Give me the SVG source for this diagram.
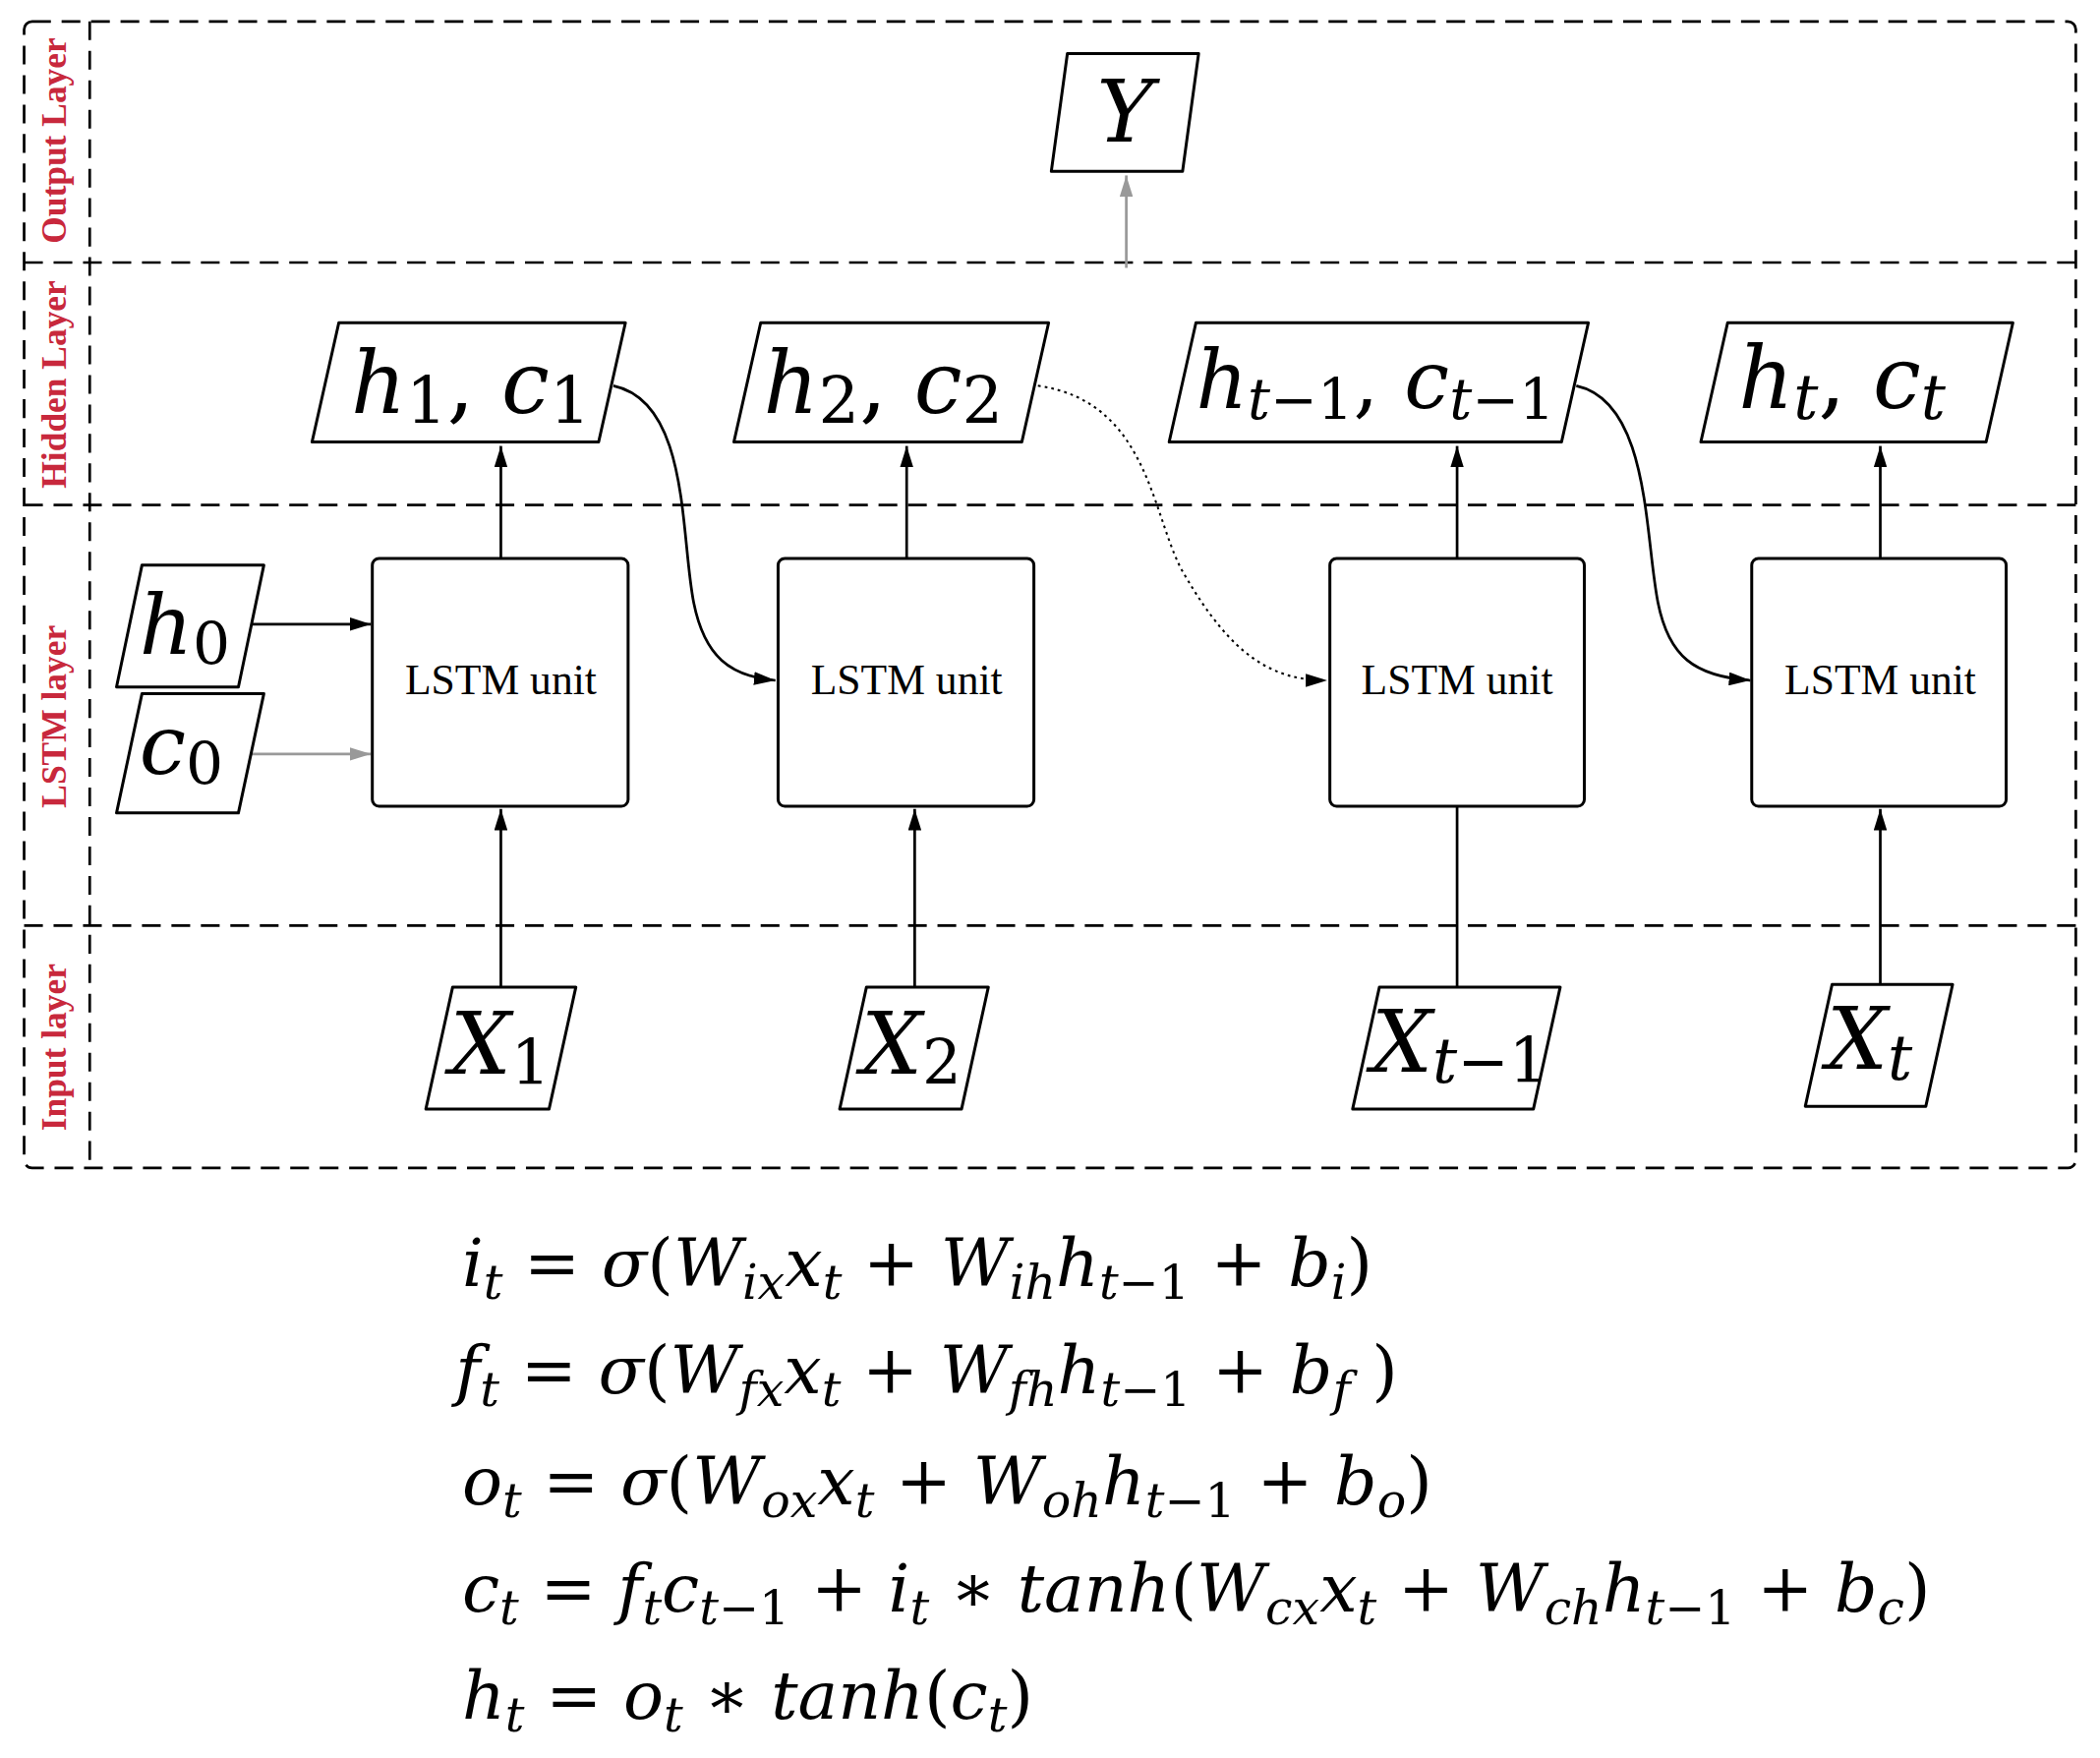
<svg xmlns="http://www.w3.org/2000/svg" width="2136" height="1788" viewBox="0 0 2136 1788">
<style>
.dash{fill:none;stroke:#000;stroke-width:2;stroke-dasharray:14 8}
.node{fill:#fff;stroke:#000;stroke-width:2.2;stroke-linejoin:round}
.m{font-family:"DejaVu Serif","Liberation Serif",serif;font-style:italic;fill:#000}
.u{font-style:normal}
.lbl{font-family:"Liberation Serif",serif;font-weight:bold;fill:#c8283c;font-size:26px}
.box{font-family:"Liberation Serif",serif;font-size:32px;fill:#000}
.e{fill:none;stroke:#000;stroke-width:2}
</style>
<defs>
<marker id="a" markerWidth="16" markerHeight="10" refX="16" refY="5" orient="auto" markerUnits="userSpaceOnUse" viewBox="0 0 16 10"><path d="M0,0L16,5L0,10Z" fill="#000"/></marker>
<marker id="g" markerWidth="16" markerHeight="10" refX="16" refY="5" orient="auto" markerUnits="userSpaceOnUse" viewBox="0 0 16 10"><path d="M0,0L16,5L0,10Z" fill="#999"/></marker>
</defs>
<rect width="2136" height="1788" fill="#fff"/>
<g transform="scale(1.3622)">
<g id="frame">
<rect x="18" y="16" width="1532" height="856" rx="6" class="dash"/>
<line x1="67" y1="16" x2="67" y2="872" class="dash"/>
<line x1="18" y1="196" x2="1550" y2="196" class="dash"/>
<line x1="18" y1="377" x2="1550" y2="377" class="dash"/>
<line x1="18" y1="691" x2="1550" y2="691" class="dash"/>
<text class="lbl" transform="translate(49,105) rotate(-90)" text-anchor="middle">Output Layer</text>
<text class="lbl" transform="translate(49,287) rotate(-90)" text-anchor="middle">Hidden Layer</text>
<text class="lbl" transform="translate(49,535) rotate(-90)" text-anchor="middle">LSTM layer</text>
<text class="lbl" transform="translate(49,782) rotate(-90)" text-anchor="middle">Input layer</text>
</g>
<g id="connectors">
<line x1="841" y1="200" x2="841" y2="131" stroke="#999" stroke-width="2" marker-end="url(#g)"/>
<line x1="188" y1="466" x2="277" y2="466" class="e" marker-end="url(#a)"/>
<line x1="186" y1="563" x2="277" y2="563" stroke="#999" stroke-width="2" marker-end="url(#g)"/>
<line x1="374" y1="417" x2="374" y2="333" class="e" marker-end="url(#a)"/>
<line x1="677" y1="417" x2="677" y2="333" class="e" marker-end="url(#a)"/>
<line x1="1088" y1="417" x2="1088" y2="333" class="e" marker-end="url(#a)"/>
<line x1="1404" y1="417" x2="1404" y2="333" class="e" marker-end="url(#a)"/>
<line x1="374" y1="737" x2="374" y2="604" class="e" marker-end="url(#a)"/>
<line x1="683" y1="737" x2="683" y2="604" class="e" marker-end="url(#a)"/>
<line x1="1088" y1="737" x2="1088" y2="602" class="e"/>
<line x1="1404" y1="735" x2="1404" y2="604" class="e" marker-end="url(#a)"/>
<path d="M458,288 C515,300 508,400 518,450 C526,490 545,505 579,508" class="e" marker-end="url(#a)"/>
<path d="M775,288 C860,300 860,390 885,430 C920,490 950,508 991,508" fill="none" stroke="#000" stroke-width="1.5" stroke-dasharray="2 3" marker-end="url(#a)"/>
<path d="M1177,288 C1232,300 1228,400 1238,450 C1246,490 1265,505 1307,508" class="e" marker-end="url(#a)"/>
</g>
<g id="Y"><path d="M797,40H895L883,128H785Z" class="node"/><text class="m" x="840" y="106" font-size="64" text-anchor="middle">Y</text></g>
<g id="h1c1"><path d="M253,241H467L447,330H233Z" class="node"/><text class="m" x="262" y="308" font-size="64">h<tspan class="u" font-size="48" dy="8">1</tspan><tspan class="u" dy="-8">, </tspan>c<tspan class="u" font-size="48" dy="8">1</tspan></text></g>
<g id="h2c2"><path d="M568,241H783L763,330H548Z" class="node"/><text class="m" x="570" y="308" font-size="64">h<tspan class="u" font-size="48" dy="8">2</tspan><tspan class="u" dy="-8">, </tspan>c<tspan class="u" font-size="48" dy="8">2</tspan></text></g>
<g id="htm1"><path d="M893,241H1186L1166,330H873Z" class="node"/><text class="m" x="893" y="305" font-size="60">h<tspan font-size="42" dy="8">t</tspan><tspan class="u" font-size="42">−1</tspan><tspan class="u" dy="-8">, </tspan>c<tspan font-size="42" dy="8">t</tspan><tspan class="u" font-size="42">−1</tspan></text></g>
<g id="ht"><path d="M1290,241H1503L1483,330H1270Z" class="node"/><text class="m" x="1298" y="305" font-size="64">h<tspan font-size="46" dy="8">t</tspan><tspan class="u" dy="-8">, </tspan>c<tspan font-size="46" dy="8">t</tspan></text></g>
<g id="h0"><path d="M106,422H197L178,513H87Z" class="node"/><text class="m" x="104" y="488" font-size="62">h<tspan class="u" font-size="44" dy="8">0</tspan></text></g>
<g id="c0"><path d="M106,518H197L178,607H87Z" class="node"/><text class="m" x="104" y="578" font-size="62">c<tspan class="u" font-size="44" dy="8">0</tspan></text></g>
<g id="lstm1"><rect x="278" y="417" width="191" height="185" rx="5" class="node"/><text class="box" x="374" y="518" text-anchor="middle">LSTM unit</text></g>
<g id="lstm2"><rect x="581" y="417" width="191" height="185" rx="5" class="node"/><text class="box" x="677" y="518" text-anchor="middle">LSTM unit</text></g>
<g id="lstm3"><rect x="993" y="417" width="190" height="185" rx="5" class="node"/><text class="box" x="1088" y="518" text-anchor="middle">LSTM unit</text></g>
<g id="lstm4"><rect x="1308" y="417" width="190" height="185" rx="5" class="node"/><text class="box" x="1404" y="518" text-anchor="middle">LSTM unit</text></g>
<g id="X1"><path d="M338,737H430L410,828H318Z" class="node"/><text class="m" x="336" y="802" font-size="64">X<tspan class="u" font-size="46" dy="8">1</tspan></text></g>
<g id="X2"><path d="M647,737H738L718,828H627Z" class="node"/><text class="m" x="643" y="802" font-size="64">X<tspan class="u" font-size="46" dy="8">2</tspan></text></g>
<g id="Xtm1"><path d="M1030,737H1165L1145,828H1010Z" class="node"/><text class="m" x="1024" y="800" font-size="64">X<tspan font-size="46" dy="8">t</tspan><tspan class="u" font-size="46">−1</tspan></text></g>
<g id="Xt"><path d="M1368,735H1458L1438,826H1348Z" class="node"/><text class="m" x="1364" y="798" font-size="64">X<tspan font-size="46" dy="8">t</tspan></text></g>
<g id="equations" class="m" font-size="50">
<text x="345" y="960">i<tspan font-size="36" dy="10">t</tspan><tspan class="u" dy="-10"> = </tspan>σ<tspan class="u">(</tspan>W<tspan font-size="36" dy="10">ix</tspan><tspan dy="-10">x</tspan><tspan font-size="36" dy="10">t</tspan><tspan class="u" dy="-10"> + </tspan>W<tspan font-size="36" dy="10">ih</tspan><tspan dy="-10">h</tspan><tspan font-size="36" dy="10">t</tspan><tspan class="u" font-size="36">−1</tspan><tspan class="u" dy="-10"> + </tspan>b<tspan font-size="36" dy="10">i</tspan><tspan class="u" dy="-10">)</tspan></text>
<text x="340" y="1040">f<tspan font-size="36" dy="10">t</tspan><tspan class="u" dy="-10"> = </tspan>σ<tspan class="u">(</tspan>W<tspan font-size="36" dy="10">fx</tspan><tspan dy="-10">x</tspan><tspan font-size="36" dy="10">t</tspan><tspan class="u" dy="-10"> + </tspan>W<tspan font-size="36" dy="10">fh</tspan><tspan dy="-10">h</tspan><tspan font-size="36" dy="10">t</tspan><tspan class="u" font-size="36">−1</tspan><tspan class="u" dy="-10"> + </tspan>b<tspan font-size="36" dy="10">f</tspan><tspan class="u" dy="-10"> )</tspan></text>
<text x="345" y="1123">o<tspan font-size="36" dy="10">t</tspan><tspan class="u" dy="-10"> = </tspan>σ<tspan class="u">(</tspan>W<tspan font-size="36" dy="10">ox</tspan><tspan dy="-10">x</tspan><tspan font-size="36" dy="10">t</tspan><tspan class="u" dy="-10"> + </tspan>W<tspan font-size="36" dy="10">oh</tspan><tspan dy="-10">h</tspan><tspan font-size="36" dy="10">t</tspan><tspan class="u" font-size="36">−1</tspan><tspan class="u" dy="-10"> + </tspan>b<tspan font-size="36" dy="10">o</tspan><tspan class="u" dy="-10">)</tspan></text>
<text x="345" y="1203">c<tspan font-size="36" dy="10">t</tspan><tspan class="u" dy="-10"> = </tspan>f<tspan font-size="36" dy="10">t</tspan><tspan dy="-10">c</tspan><tspan font-size="36" dy="10">t</tspan><tspan class="u" font-size="36">−1</tspan><tspan class="u" dy="-10"> + </tspan>i<tspan font-size="36" dy="10">t</tspan><tspan class="u" dy="-10"> ∗ </tspan>tanh<tspan class="u">(</tspan>W<tspan font-size="36" dy="10">cx</tspan><tspan dy="-10">x</tspan><tspan font-size="36" dy="10">t</tspan><tspan class="u" dy="-10"> + </tspan>W<tspan font-size="36" dy="10">ch</tspan><tspan dy="-10">h</tspan><tspan font-size="36" dy="10">t</tspan><tspan class="u" font-size="36">−1</tspan><tspan class="u" dy="-10"> + </tspan>b<tspan font-size="36" dy="10">c</tspan><tspan class="u" dy="-10">)</tspan></text>
<text x="345" y="1283">h<tspan font-size="36" dy="10">t</tspan><tspan class="u" dy="-10"> = </tspan>o<tspan font-size="36" dy="10">t</tspan><tspan class="u" dy="-10"> ∗ </tspan>tanh<tspan class="u">(</tspan>c<tspan font-size="36" dy="10">t</tspan><tspan class="u" dy="-10">)</tspan></text>
</g>
</g>
</svg>
